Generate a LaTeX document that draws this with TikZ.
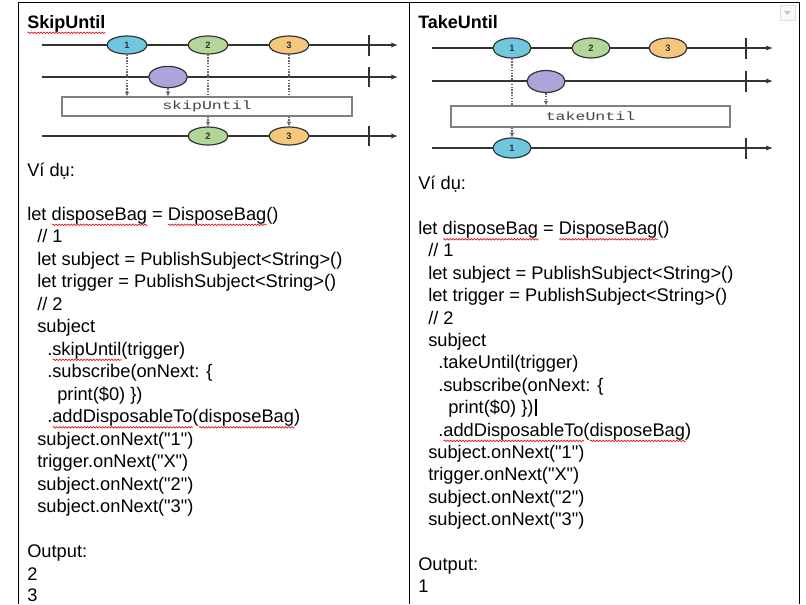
\documentclass[tikz,border=0pt]{standalone}
\usepackage{fontspec}
\setmainfont{Liberation Sans}
\newfontfamily\boxmono[FakeStretch=1.38]{Liberation Mono}
\usetikzlibrary{calc,shapes.geometric,arrows.meta,decorations.pathmorphing}

\definecolor{linegray}{HTML}{333333}
\definecolor{feedgray}{HTML}{666666}
\definecolor{boxgray}{HTML}{808080}
\definecolor{textgray}{HTML}{444444}
\definecolor{mblue}{HTML}{6FC8DF}
\definecolor{mgreen}{HTML}{B3D69A}
\definecolor{morange}{HTML}{F5C77C}
\definecolor{mpurple}{HTML}{AEA3DA}
\definecolor{spellred}{HTML}{E02020}

% red wavy underline of the spell checker
\newlength\spellw
\newcommand\spellwave[1]{\settowidth\spellw{#1}\rlap{\tikz[baseline=0pt,x=1pt,y=1pt]\draw[spellred,line width=0.55pt,decorate,decoration={snake,amplitude=0.55pt,segment length=2.3pt}] (0,-3.6) -- (\spellw,-3.6);}#1}
\newcommand\sq{\textquotedbl}

\tikzset{
  tl/.style={draw=linegray, line width=1.1pt, -{Latex[length=5pt,width=4pt]}},
  tickmark/.style={draw=linegray, line width=2.2pt},
  marble/.style={ellipse, draw=linegray, line width=0.9pt, inner sep=0pt,
    minimum width=30pt, minimum height=13.5pt, text=linegray,
    font=\fontsize{7}{8}\selectfont\bfseries},
  trig/.style={marble, fill=mpurple, minimum height=16pt},
  feed/.style={draw=feedgray, line width=1.1pt, densely dotted},
  feedtip/.style={feed, -{Latex[length=3.5pt,width=3.5pt]}},
  opbox/.style={draw=boxgray, line width=0.8pt, fill=white, inner sep=0pt,
    text=textgray, font=\boxmono\fontsize{9}{10}\selectfont},
  title/.style={anchor=base west, inner sep=0pt, font=\fontsize{13.5}{16}\selectfont\bfseries},
  code/.style={anchor=base west, inner sep=0pt, font=\fontsize{13.7}{16}\selectfont},
  tablerule/.style={draw=black, line width=0.75pt}
}

\begin{document}
\begin{tikzpicture}[x=0.75pt,y=-0.75pt]
\useasboundingbox (0,0) rectangle (806,604);
\fill[white] (0,0) rectangle (806,604);

% table
\draw[tablerule] (18,2) -- (799,2);
\draw[tablerule] (18,2) -- (18,604);
\draw[tablerule] (409,2) -- (409,604);
\draw[tablerule] (799,2) -- (799,604);
\draw[draw=gray!25, fill=gray!5] (780,5) rectangle (795,20);
\fill[gray!45] (784,11) -- (791,11) -- (787.5,15) -- cycle;

%%% SkipUntil
\node[title] (sktitle) at (27,28) {\spellwave{SkipUntil}};
\coordinate (sa0) at (42,45);  \coordinate (sa1) at (398,45);
\coordinate (sb0) at (42,77);  \coordinate (sb1) at (398,77);
\coordinate (sc0) at (42,136); \coordinate (sc1) at (398,136);
\draw[tl] (sa0) -- (sa1);
\draw[tl] (sb0) -- (sb1);
\draw[tl] (sc0) -- (sc1);
\draw[tickmark] (369,35) -- (369,56);
\draw[tickmark] (369,67) -- (369,87);
\draw[tickmark] (369,126) -- (369,146);
\node[marble, fill=mblue] (s1) at (127,45) {1};
\node[marble, fill=mgreen] (s2) at (208,45) {2};
\node[marble, fill=morange] (s3) at (289,45) {3};
\node[trig, minimum width=29pt] (sx) at (168,77) {};
\node[opbox, minimum width=217.5pt, minimum height=14.25pt] (sbox) at (207,106.5) {skipUntil};
\node[marble, fill=mgreen] (so2) at (208,136) {2};
\node[marble, fill=morange] (so3) at (289,136) {3};
\draw[feedtip] (s1.south) -- (s1.south |- sbox.north);
\draw[feedtip] (sx.south) -- (sx.south |- sbox.north);
\draw[feed] (s2.south) -- (s2.south |- sbox.north);
\draw[feed] (s3.south) -- (s3.south |- sbox.north);
\draw[feedtip] (sbox.south -| so2) -- (so2.north);
\draw[feedtip] (sbox.south -| so3) -- (so3.north);

\node[code] (svd) at (27,176.5) {Ví dụ:};
\node[code] (s0) at (27,220) {let \spellwave{disposeBag} = \spellwave{DisposeBag}()};
\node[code] (s1c) at (37,242.5) {// 1};
\node[code] (s2c) at (37,265) {let subject = PublishSubject<String>()};
\node[code] (s3c) at (37,287.5) {let trigger = PublishSubject<String>()};
\node[code] (s4c) at (37,310) {// 2};
\node[code] (s5c) at (37,332.5) {subject};
\node[code] (s6c) at (47,355) {.\spellwave{skipUntil}(trigger)};
\node[code] (s7c) at (47,377.5) {.subscribe(onNext: \{};
\node[code] (s8c) at (57,400) {print(\$0) \})};
\node[code] (s9c) at (47,422.5) {.\spellwave{addDisposableTo}(\spellwave{disposeBag})};
\node[code] (s10c) at (37,445) {subject.onNext(\sq1\sq)};
\node[code] (s11c) at (37,467.5) {trigger.onNext(\sq X\sq)};
\node[code] (s12c) at (37,490) {subject.onNext(\sq2\sq)};
\node[code] (s13c) at (37,512.5) {subject.onNext(\sq3\sq)};
\node[code] (sout) at (27,557.5) {Output:};
\node[code] (sout1) at (27,580) {2};
\node[code] (sout2) at (27,601.5) {3};

%%% TakeUntil
\node[title] (tktitle) at (418,28) {TakeUntil};
\coordinate (ta0) at (432,48);  \coordinate (ta1) at (773,48);
\coordinate (tb0) at (432,81);  \coordinate (tb1) at (773,81);
\coordinate (tc0) at (432,148); \coordinate (tc1) at (773,148);
\draw[tl] (ta0) -- (ta1);
\draw[tl] (tb0) -- (tb1);
\draw[tl] (tc0) -- (tc1);
\draw[tickmark] (746,38) -- (746,59);
\draw[tickmark] (746,71) -- (746,92);
\draw[tickmark] (746,138) -- (746,159);
\node[marble, fill=mblue, minimum width=28.5pt, minimum height=15pt] (t1) at (512,48) {1};
\node[marble, fill=mgreen, minimum width=28.5pt, minimum height=15pt] (t2) at (591,48) {2};
\node[marble, fill=morange, minimum width=28.5pt, minimum height=15pt] (t3) at (668,48) {3};
\node[trig, minimum width=28.5pt, minimum height=16.5pt] (tx) at (546,81.5) {};
\node[opbox, minimum width=209.25pt, minimum height=15.75pt] (tbox) at (590.5,116.5) {takeUntil};
\node[marble, fill=mblue, minimum width=28.5pt, minimum height=15pt] (to1) at (512,148) {1};
\draw[feed] (t1.south) -- (t1.south |- tbox.north);
\draw[feedtip] (tx.south) -- (tx.south |- tbox.north);
\draw[feedtip] (tbox.south -| to1) -- (to1.north);

\node[code] (tvd) at (418,189.5) {Ví dụ:};
\node[code] (t0) at (418,234.5) {let \spellwave{disposeBag} = \spellwave{DisposeBag}()};
\node[code] (t1c) at (428,256.9) {// 1};
\node[code] (t2c) at (428,279.3) {let subject = PublishSubject<String>()};
\node[code] (t3c) at (428,301.7) {let trigger = PublishSubject<String>()};
\node[code] (t4c) at (428,324.1) {// 2};
\node[code] (t5c) at (428,346.5) {subject};
\node[code] (t6c) at (438,368.9) {.takeUntil(trigger)};
\node[code] (t7c) at (438,391.3) {.subscribe(onNext: \{};
\node[code] (t8c) at (448,413.7) {print(\$0) \})};
\node[code] (t9c) at (438,436.1) {.\spellwave{addDisposableTo}(\spellwave{disposeBag})};
\node[code] (t10c) at (428,458.5) {subject.onNext(\sq1\sq)};
\node[code] (t11c) at (428,480.9) {trigger.onNext(\sq X\sq)};
\node[code] (t12c) at (428,503.3) {subject.onNext(\sq2\sq)};
\node[code] (t13c) at (428,525.7) {subject.onNext(\sq3\sq)};
\node[code] (tout) at (418,570.5) {Output:};
\node[code] (tout1) at (418,592.9) {1};
% text cursor
\draw[line width=1.5pt] ($(t8c.base east)+(2,2)$) -- ++(0,-17);
\end{tikzpicture}
\end{document}
